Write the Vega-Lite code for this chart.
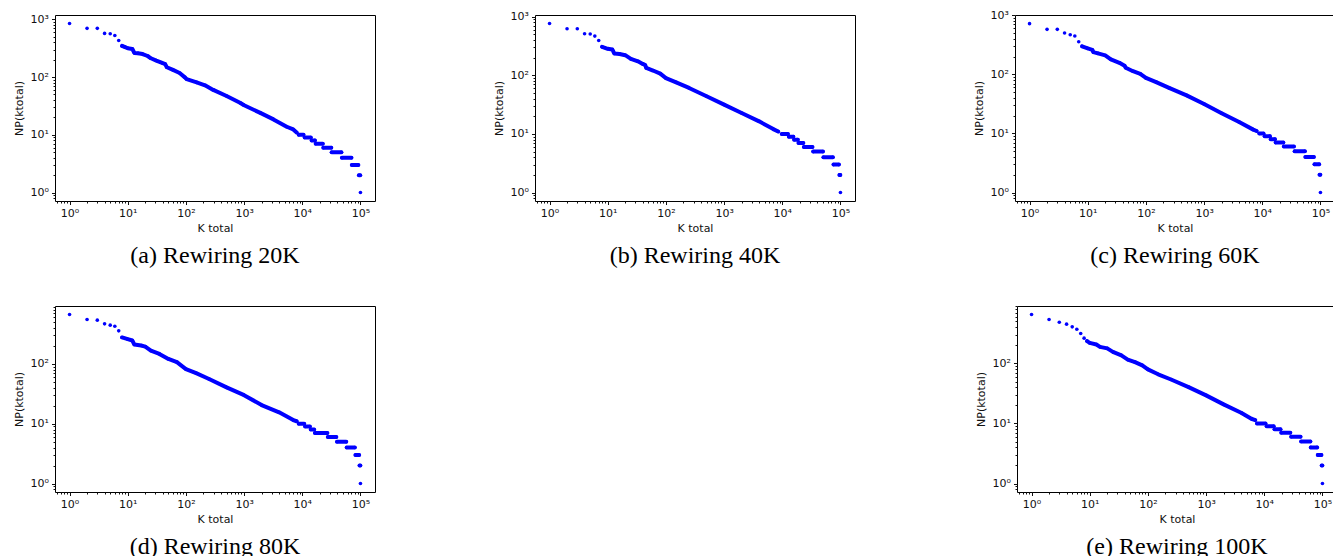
{
  "$schema": "https://vega.github.io/schema/vega-lite/v6.json",
  "padding": {"left": 12, "top": 8, "right": 0, "bottom": 0},
  "background": "white",
  "config": {
    "view": {"stroke": "#000", "strokeWidth": 1},
    "axis": {"domain": false, "grid": false, "labelFont": "DejaVu Sans", "labelFontSize": 11, "labelColor": "#111", "tickColor": "#111", "tickWidth": 1, "titleFont": "DejaVu Sans", "titleFontSize": 11, "titleFontWeight": "normal", "titleColor": "#111", "labelFlush": false, "labelOverlap": false, "labelPadding": 3},
    "axisX": {"titlePadding": 4},
    "axisY": {"titlePadding": 6},
    "title": {"font": "Liberation Serif", "fontSize": 24, "fontWeight": "normal", "color": "#000", "orient": "bottom", "offset": 10}
  },
  "datasets": {
    "pts": [
      {"p":"a","s":"dot","x":1,"y":850},{"p":"a","s":"dot","x":2,"y":700},{"p":"a","s":"dot","x":3,"y":700},{"p":"a","s":"dot","x":4,"y":572},{"p":"a","s":"dot","x":5,"y":565},{"p":"a","s":"dot","x":6,"y":527},{"p":"a","s":"dot","x":7,"y":431},{"p":"a","s":"dot","x":100000,"y":1},
      {"p":"a","s":"band","x":8,"y":347},{"p":"a","s":"band","x":9,"y":330},{"p":"a","s":"band","x":10,"y":316},{"p":"a","s":"band","x":12,"y":307},{"p":"a","s":"band","x":13,"y":262},{"p":"a","s":"band","x":15,"y":258},{"p":"a","s":"band","x":18,"y":251},{"p":"a","s":"band","x":22,"y":232},{"p":"a","s":"band","x":25,"y":212},{"p":"a","s":"band","x":31,"y":193},{"p":"a","s":"band","x":40,"y":174},{"p":"a","s":"band","x":44,"y":168},{"p":"a","s":"band","x":47,"y":148},{"p":"a","s":"band","x":60,"y":133},{"p":"a","s":"band","x":78,"y":118},{"p":"a","s":"band","x":96,"y":99},{"p":"a","s":"band","x":103,"y":92},{"p":"a","s":"band","x":153,"y":81},{"p":"a","s":"band","x":213,"y":72},{"p":"a","s":"band","x":295,"y":60},{"p":"a","s":"band","x":500,"y":47},{"p":"a","s":"band","x":850,"y":36},{"p":"a","s":"band","x":1000,"y":32.5},{"p":"a","s":"band","x":1900,"y":24},{"p":"a","s":"band","x":3200,"y":18.5},{"p":"a","s":"band","x":5400,"y":13.8},{"p":"a","s":"band","x":7000,"y":12.4},{"p":"a","s":"band","x":8000,"y":11},
      {"p":"a","s":"t10","x":8700,"y":10},{"p":"a","s":"t10","x":10500,"y":10},{"p":"a","s":"t9","x":11000,"y":9},{"p":"a","s":"t9","x":14000,"y":9},{"p":"a","s":"t8","x":14500,"y":8},{"p":"a","s":"t8","x":16500,"y":8},{"p":"a","s":"t7","x":17000,"y":7},{"p":"a","s":"t7","x":22500,"y":7},{"p":"a","s":"t6","x":23000,"y":6},{"p":"a","s":"t6","x":31500,"y":6},{"p":"a","s":"t5","x":32000,"y":5},{"p":"a","s":"t5","x":47000,"y":5},{"p":"a","s":"t4","x":48000,"y":4},{"p":"a","s":"t4","x":70000,"y":4},{"p":"a","s":"t3","x":71000,"y":3},{"p":"a","s":"t3","x":92000,"y":3},{"p":"a","s":"t2","x":94000,"y":2},{"p":"a","s":"t2","x":99000,"y":2},

      {"p":"b","s":"dot","x":1,"y":770},{"p":"b","s":"dot","x":2,"y":624},{"p":"b","s":"dot","x":3,"y":624},{"p":"b","s":"dot","x":4,"y":513},{"p":"b","s":"dot","x":5,"y":508},{"p":"b","s":"dot","x":6,"y":468},{"p":"b","s":"dot","x":7,"y":394},{"p":"b","s":"dot","x":100000,"y":1},
      {"p":"b","s":"band","x":8,"y":307},{"p":"b","s":"band","x":10,"y":284},{"p":"b","s":"band","x":12,"y":276},{"p":"b","s":"band","x":13,"y":236},{"p":"b","s":"band","x":16,"y":232},{"p":"b","s":"band","x":20,"y":221},{"p":"b","s":"band","x":25,"y":191},{"p":"b","s":"band","x":33,"y":174},{"p":"b","s":"band","x":40,"y":157},{"p":"b","s":"band","x":44,"y":150},{"p":"b","s":"band","x":46,"y":134},{"p":"b","s":"band","x":60,"y":121},{"p":"b","s":"band","x":80,"y":107},{"p":"b","s":"band","x":100,"y":90},{"p":"b","s":"band","x":150,"y":76},{"p":"b","s":"band","x":250,"y":61},{"p":"b","s":"band","x":500,"y":44},{"p":"b","s":"band","x":1000,"y":31.7},{"p":"b","s":"band","x":2000,"y":22.8},{"p":"b","s":"band","x":4000,"y":16.4},{"p":"b","s":"band","x":7000,"y":12.1},{"p":"b","s":"band","x":8500,"y":11},
      {"p":"b","s":"t10","x":9800,"y":10},{"p":"b","s":"t10","x":12500,"y":10},{"p":"b","s":"t9","x":13000,"y":9},{"p":"b","s":"t9","x":15500,"y":9},{"p":"b","s":"t8","x":16000,"y":8},{"p":"b","s":"t8","x":18500,"y":8},{"p":"b","s":"t7","x":19000,"y":7},{"p":"b","s":"t7","x":23000,"y":7},{"p":"b","s":"t6","x":23500,"y":6},{"p":"b","s":"t6","x":33000,"y":6},{"p":"b","s":"t5","x":34000,"y":5},{"p":"b","s":"t5","x":50000,"y":5},{"p":"b","s":"t4","x":51000,"y":4},{"p":"b","s":"t4","x":74000,"y":4},{"p":"b","s":"t3","x":76000,"y":3},{"p":"b","s":"t3","x":94000,"y":3},{"p":"b","s":"t2","x":96000,"y":2},{"p":"b","s":"t2","x":99500,"y":2},

      {"p":"c","s":"dot","x":1,"y":721},{"p":"c","s":"dot","x":2,"y":578},{"p":"c","s":"dot","x":3,"y":578},{"p":"c","s":"dot","x":4,"y":500},{"p":"c","s":"dot","x":5,"y":469},{"p":"c","s":"dot","x":6,"y":445},{"p":"c","s":"dot","x":7,"y":356},{"p":"c","s":"dot","x":100000,"y":1},
      {"p":"c","s":"band","x":8,"y":297},{"p":"c","s":"band","x":10,"y":275},{"p":"c","s":"band","x":12,"y":260},{"p":"c","s":"band","x":12.5,"y":238},{"p":"c","s":"band","x":15,"y":226},{"p":"c","s":"band","x":20,"y":209},{"p":"c","s":"band","x":25,"y":179},{"p":"c","s":"band","x":35,"y":157},{"p":"c","s":"band","x":43,"y":140},{"p":"c","s":"band","x":45,"y":129},{"p":"c","s":"band","x":60,"y":113},{"p":"c","s":"band","x":80,"y":102},{"p":"c","s":"band","x":100,"y":87},{"p":"c","s":"band","x":150,"y":74},{"p":"c","s":"band","x":250,"y":59},{"p":"c","s":"band","x":500,"y":44},{"p":"c","s":"band","x":1000,"y":31.5},{"p":"c","s":"band","x":2000,"y":22},{"p":"c","s":"band","x":4000,"y":15.6},{"p":"c","s":"band","x":7000,"y":11.6},{"p":"c","s":"band","x":8000,"y":11},
      {"p":"c","s":"t10","x":8900,"y":10},{"p":"c","s":"t10","x":10500,"y":10},{"p":"c","s":"t9","x":11000,"y":9},{"p":"c","s":"t9","x":13500,"y":9},{"p":"c","s":"t8","x":14000,"y":8},{"p":"c","s":"t8","x":16500,"y":8},{"p":"c","s":"t7","x":17000,"y":7},{"p":"c","s":"t7","x":23000,"y":7},{"p":"c","s":"t6","x":23500,"y":6},{"p":"c","s":"t6","x":35000,"y":6},{"p":"c","s":"t5","x":36000,"y":5},{"p":"c","s":"t5","x":54000,"y":5},{"p":"c","s":"t4","x":55000,"y":4},{"p":"c","s":"t4","x":77000,"y":4},{"p":"c","s":"t3","x":79000,"y":3},{"p":"c","s":"t3","x":95000,"y":3},{"p":"c","s":"t2","x":96500,"y":2},{"p":"c","s":"t2","x":99500,"y":2},

      {"p":"d","s":"dot","x":1,"y":671},{"p":"d","s":"dot","x":2,"y":553},{"p":"d","s":"dot","x":3,"y":539},{"p":"d","s":"dot","x":4,"y":468},{"p":"d","s":"dot","x":5,"y":445},{"p":"d","s":"dot","x":6,"y":427},{"p":"d","s":"dot","x":7,"y":357},{"p":"d","s":"dot","x":100000,"y":1},
      {"p":"d","s":"band","x":8,"y":277},{"p":"d","s":"band","x":10,"y":259},{"p":"d","s":"band","x":12,"y":246},{"p":"d","s":"band","x":13,"y":211},{"p":"d","s":"band","x":17,"y":203},{"p":"d","s":"band","x":20,"y":195},{"p":"d","s":"band","x":25,"y":167},{"p":"d","s":"band","x":35,"y":147},{"p":"d","s":"band","x":50,"y":121},{"p":"d","s":"band","x":70,"y":107},{"p":"d","s":"band","x":100,"y":82},{"p":"d","s":"band","x":150,"y":70},{"p":"d","s":"band","x":250,"y":56},{"p":"d","s":"band","x":500,"y":40.5},{"p":"d","s":"band","x":1000,"y":30},{"p":"d","s":"band","x":2000,"y":20.5},{"p":"d","s":"band","x":4000,"y":15.5},{"p":"d","s":"band","x":7000,"y":11.5},{"p":"d","s":"band","x":8000,"y":11},
      {"p":"d","s":"t10","x":8700,"y":10},{"p":"d","s":"t10","x":10800,"y":10},{"p":"d","s":"t9","x":11200,"y":9},{"p":"d","s":"t9","x":13500,"y":9},{"p":"d","s":"t8","x":14000,"y":8},{"p":"d","s":"t8","x":16000,"y":8},{"p":"d","s":"t7","x":16500,"y":7},{"p":"d","s":"t7","x":27000,"y":7},{"p":"d","s":"t6","x":27500,"y":6},{"p":"d","s":"t6","x":38500,"y":6},{"p":"d","s":"t5","x":39500,"y":5},{"p":"d","s":"t5","x":57000,"y":5},{"p":"d","s":"t4","x":58000,"y":4},{"p":"d","s":"t4","x":80000,"y":4},{"p":"d","s":"t3","x":82000,"y":3},{"p":"d","s":"t3","x":95000,"y":3},{"p":"d","s":"t2","x":96500,"y":2},{"p":"d","s":"t2","x":99500,"y":2},

      {"p":"e","s":"dot","x":1,"y":652},{"p":"e","s":"dot","x":2,"y":539},{"p":"e","s":"dot","x":3,"y":486},{"p":"e","s":"dot","x":4,"y":451},{"p":"e","s":"dot","x":5,"y":407},{"p":"e","s":"dot","x":6,"y":372},{"p":"e","s":"dot","x":7,"y":316},{"p":"e","s":"dot","x":8,"y":264},{"p":"e","s":"dot","x":100000,"y":1},
      {"p":"e","s":"band","x":9,"y":235},{"p":"e","s":"band","x":10,"y":220},{"p":"e","s":"band","x":13,"y":207},{"p":"e","s":"band","x":15,"y":189},{"p":"e","s":"band","x":20,"y":178},{"p":"e","s":"band","x":25,"y":156},{"p":"e","s":"band","x":35,"y":136},{"p":"e","s":"band","x":45,"y":116},{"p":"e","s":"band","x":60,"y":105},{"p":"e","s":"band","x":80,"y":93},{"p":"e","s":"band","x":100,"y":79.5},{"p":"e","s":"band","x":150,"y":66},{"p":"e","s":"band","x":250,"y":54},{"p":"e","s":"band","x":500,"y":40.4},{"p":"e","s":"band","x":1000,"y":29.4},{"p":"e","s":"band","x":2000,"y":20.8},{"p":"e","s":"band","x":4000,"y":15.1},{"p":"e","s":"band","x":6000,"y":12},{"p":"e","s":"band","x":7000,"y":11.4},
      {"p":"e","s":"t10","x":7500,"y":10},{"p":"e","s":"t10","x":10500,"y":10},{"p":"e","s":"t9","x":11000,"y":9},{"p":"e","s":"t9","x":14500,"y":9},{"p":"e","s":"t8","x":15000,"y":8},{"p":"e","s":"t8","x":19000,"y":8},{"p":"e","s":"t7","x":19600,"y":7},{"p":"e","s":"t7","x":28000,"y":7},{"p":"e","s":"t6","x":29000,"y":6},{"p":"e","s":"t6","x":42000,"y":6},{"p":"e","s":"t5","x":43000,"y":5},{"p":"e","s":"t5","x":62000,"y":5},{"p":"e","s":"t4","x":63000,"y":4},{"p":"e","s":"t4","x":81000,"y":4},{"p":"e","s":"t3","x":83000,"y":3},{"p":"e","s":"t3","x":96000,"y":3},{"p":"e","s":"t2","x":97000,"y":2},{"p":"e","s":"t2","x":99500,"y":2}
    ]
  },
  "vconcat": [
    {
      "spacing": 116,
      "hconcat": [
        {
          "width": 320, "height": 186,
          "title": {"text": "(a) Rewiring 20K"},
          "data": {"name": "pts"},
          "transform": [{"filter": "datum.p === 'a'"}],
          "encoding": {
            "x": {"field": "x", "type": "quantitative", "scale": {"type": "log", "domain": [0.5623, 177828], "nice": false, "zero": false},
              "axis": {"title": "K total", "values": [0.6,0.7,0.8,0.9,1,2,3,4,5,6,7,8,9,10,20,30,40,50,60,70,80,90,100,200,300,400,500,600,700,800,900,1000,2000,3000,4000,5000,6000,7000,8000,9000,10000,20000,30000,40000,50000,60000,70000,80000,90000,100000],
                "labelExpr": "datum.value==1?'10⁰':datum.value==10?'10¹':datum.value==100?'10²':datum.value==1000?'10³':datum.value==10000?'10⁴':datum.value==100000?'10⁵':''",
                "tickSize": {"condition": {"test": "indexof([1,10,100,1000,10000,100000], datum.value) >= 0", "value": 3.5}, "value": 2}}},
            "y": {"field": "y", "type": "quantitative", "scale": {"type": "log", "domain": [0.714, 1191], "nice": false, "zero": false},
              "axis": {"title": "NP(ktotal)", "values": [0.8,0.9,1,2,3,4,5,6,7,8,9,10,20,30,40,50,60,70,80,90,100,200,300,400,500,600,700,800,900,1000],
                "labelExpr": "datum.value==1?'10⁰':datum.value==10?'10¹':datum.value==100?'10²':datum.value==1000?'10³':''",
                "tickSize": {"condition": {"test": "indexof([1,10,100,1000], datum.value) >= 0", "value": 3.5}, "value": 2}}}
          },
          "layer": [
            {"transform": [{"filter": "datum.s !== 'dot'"}], "mark": {"type": "line", "color": "#0000ff", "strokeWidth": 4, "strokeCap": "round", "strokeJoin": "round"}, "encoding": {"detail": {"field": "s"}}},
            {"mark": {"type": "circle", "color": "#0000ff", "size": 13, "opacity": 1}}
          ]
        },
        {
          "width": 320, "height": 186,
          "title": {"text": "(b) Rewiring 40K"},
          "data": {"name": "pts"},
          "transform": [{"filter": "datum.p === 'b'"}],
          "encoding": {
            "x": {"field": "x", "type": "quantitative", "scale": {"type": "log", "domain": [0.5623, 177828], "nice": false, "zero": false},
              "axis": {"title": "K total", "values": [0.6,0.7,0.8,0.9,1,2,3,4,5,6,7,8,9,10,20,30,40,50,60,70,80,90,100,200,300,400,500,600,700,800,900,1000,2000,3000,4000,5000,6000,7000,8000,9000,10000,20000,30000,40000,50000,60000,70000,80000,90000,100000],
                "labelExpr": "datum.value==1?'10⁰':datum.value==10?'10¹':datum.value==100?'10²':datum.value==1000?'10³':datum.value==10000?'10⁴':datum.value==100000?'10⁵':''",
                "tickSize": {"condition": {"test": "indexof([1,10,100,1000,10000,100000], datum.value) >= 0", "value": 3.5}, "value": 2}}},
            "y": {"field": "y", "type": "quantitative", "scale": {"type": "log", "domain": [0.717, 1073], "nice": false, "zero": false},
              "axis": {"title": "NP(ktotal)", "values": [0.8,0.9,1,2,3,4,5,6,7,8,9,10,20,30,40,50,60,70,80,90,100,200,300,400,500,600,700,800,900,1000],
                "labelExpr": "datum.value==1?'10⁰':datum.value==10?'10¹':datum.value==100?'10²':datum.value==1000?'10³':''",
                "tickSize": {"condition": {"test": "indexof([1,10,100,1000], datum.value) >= 0", "value": 3.5}, "value": 2}}}
          },
          "layer": [
            {"transform": [{"filter": "datum.s !== 'dot'"}], "mark": {"type": "line", "color": "#0000ff", "strokeWidth": 4, "strokeCap": "round", "strokeJoin": "round"}, "encoding": {"detail": {"field": "s"}}},
            {"mark": {"type": "circle", "color": "#0000ff", "size": 13, "opacity": 1}}
          ]
        },
        {
          "width": 320, "height": 186,
          "title": {"text": "(c) Rewiring 60K"},
          "data": {"name": "pts"},
          "transform": [{"filter": "datum.p === 'c'"}],
          "encoding": {
            "x": {"field": "x", "type": "quantitative", "scale": {"type": "log", "domain": [0.5623, 177828], "nice": false, "zero": false},
              "axis": {"title": "K total", "values": [0.6,0.7,0.8,0.9,1,2,3,4,5,6,7,8,9,10,20,30,40,50,60,70,80,90,100,200,300,400,500,600,700,800,900,1000,2000,3000,4000,5000,6000,7000,8000,9000,10000,20000,30000,40000,50000,60000,70000,80000,90000,100000],
                "labelExpr": "datum.value==1?'10⁰':datum.value==10?'10¹':datum.value==100?'10²':datum.value==1000?'10³':datum.value==10000?'10⁴':datum.value==100000?'10⁵':''",
                "tickSize": {"condition": {"test": "indexof([1,10,100,1000,10000,100000], datum.value) >= 0", "value": 3.5}, "value": 2}}},
            "y": {"field": "y", "type": "quantitative", "scale": {"type": "log", "domain": [0.719, 1010], "nice": false, "zero": false},
              "axis": {"title": "NP(ktotal)", "values": [0.8,0.9,1,2,3,4,5,6,7,8,9,10,20,30,40,50,60,70,80,90,100,200,300,400,500,600,700,800,900,1000],
                "labelExpr": "datum.value==1?'10⁰':datum.value==10?'10¹':datum.value==100?'10²':datum.value==1000?'10³':''",
                "tickSize": {"condition": {"test": "indexof([1,10,100,1000], datum.value) >= 0", "value": 3.5}, "value": 2}}}
          },
          "layer": [
            {"transform": [{"filter": "datum.s !== 'dot'"}], "mark": {"type": "line", "color": "#0000ff", "strokeWidth": 4, "strokeCap": "round", "strokeJoin": "round"}, "encoding": {"detail": {"field": "s"}}},
            {"mark": {"type": "circle", "color": "#0000ff", "size": 13, "opacity": 1}}
          ]
        }
      ]
    },
    {
      "spacing": 598,
      "hconcat": [
        {
          "width": 320, "height": 186,
          "title": {"text": "(d) Rewiring 80K"},
          "data": {"name": "pts"},
          "transform": [{"filter": "datum.p === 'd'"}],
          "encoding": {
            "x": {"field": "x", "type": "quantitative", "scale": {"type": "log", "domain": [0.5623, 177828], "nice": false, "zero": false},
              "axis": {"title": "K total", "values": [0.6,0.7,0.8,0.9,1,2,3,4,5,6,7,8,9,10,20,30,40,50,60,70,80,90,100,200,300,400,500,600,700,800,900,1000,2000,3000,4000,5000,6000,7000,8000,9000,10000,20000,30000,40000,50000,60000,70000,80000,90000,100000],
                "labelExpr": "datum.value==1?'10⁰':datum.value==10?'10¹':datum.value==100?'10²':datum.value==1000?'10³':datum.value==10000?'10⁴':datum.value==100000?'10⁵':''",
                "tickSize": {"condition": {"test": "indexof([1,10,100,1000,10000,100000], datum.value) >= 0", "value": 3.5}, "value": 2}}},
            "y": {"field": "y", "type": "quantitative", "scale": {"type": "log", "domain": [0.722, 930], "nice": false, "zero": false},
              "axis": {"title": "NP(ktotal)", "values": [0.8,0.9,1,2,3,4,5,6,7,8,9,10,20,30,40,50,60,70,80,90,100,200,300,400,500,600,700,800,900],
                "labelExpr": "datum.value==1?'10⁰':datum.value==10?'10¹':datum.value==100?'10²':''",
                "tickSize": {"condition": {"test": "indexof([1,10,100], datum.value) >= 0", "value": 3.5}, "value": 2}}}
          },
          "layer": [
            {"transform": [{"filter": "datum.s !== 'dot'"}], "mark": {"type": "line", "color": "#0000ff", "strokeWidth": 4, "strokeCap": "round", "strokeJoin": "round"}, "encoding": {"detail": {"field": "s"}}},
            {"mark": {"type": "circle", "color": "#0000ff", "size": 13, "opacity": 1}}
          ]
        },
        {
          "width": 320, "height": 186,
          "title": {"text": "(e) Rewiring 100K"},
          "data": {"name": "pts"},
          "transform": [{"filter": "datum.p === 'e'"}],
          "encoding": {
            "x": {"field": "x", "type": "quantitative", "scale": {"type": "log", "domain": [0.5623, 177828], "nice": false, "zero": false},
              "axis": {"title": "K total", "values": [0.6,0.7,0.8,0.9,1,2,3,4,5,6,7,8,9,10,20,30,40,50,60,70,80,90,100,200,300,400,500,600,700,800,900,1000,2000,3000,4000,5000,6000,7000,8000,9000,10000,20000,30000,40000,50000,60000,70000,80000,90000,100000],
                "labelExpr": "datum.value==1?'10⁰':datum.value==10?'10¹':datum.value==100?'10²':datum.value==1000?'10³':datum.value==10000?'10⁴':datum.value==100000?'10⁵':''",
                "tickSize": {"condition": {"test": "indexof([1,10,100,1000,10000,100000], datum.value) >= 0", "value": 3.5}, "value": 2}}},
            "y": {"field": "y", "type": "quantitative", "scale": {"type": "log", "domain": [0.723, 905], "nice": false, "zero": false},
              "axis": {"title": "NP(ktotal)", "values": [0.8,0.9,1,2,3,4,5,6,7,8,9,10,20,30,40,50,60,70,80,90,100,200,300,400,500,600,700,800,900],
                "labelExpr": "datum.value==1?'10⁰':datum.value==10?'10¹':datum.value==100?'10²':''",
                "tickSize": {"condition": {"test": "indexof([1,10,100], datum.value) >= 0", "value": 3.5}, "value": 2}}}
          },
          "layer": [
            {"transform": [{"filter": "datum.s !== 'dot'"}], "mark": {"type": "line", "color": "#0000ff", "strokeWidth": 4, "strokeCap": "round", "strokeJoin": "round"}, "encoding": {"detail": {"field": "s"}}},
            {"mark": {"type": "circle", "color": "#0000ff", "size": 13, "opacity": 1}}
          ]
        }
      ]
    }
  ],
  "spacing": 31
}
